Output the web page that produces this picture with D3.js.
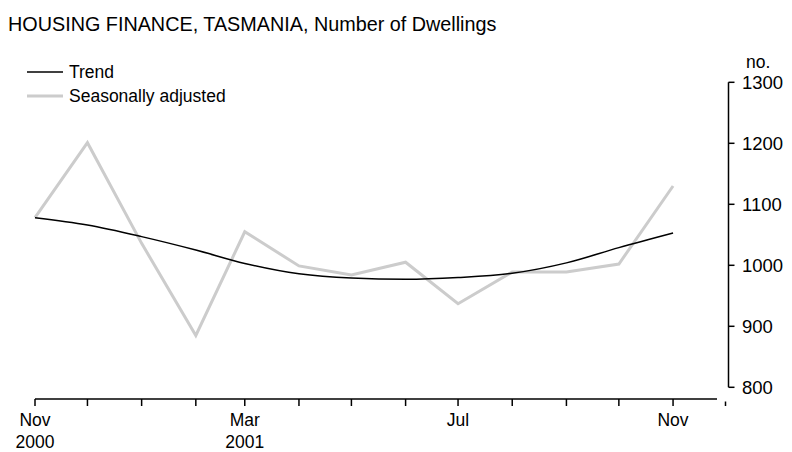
<!DOCTYPE html>
<html>
<head>
<meta charset="utf-8">
<script src="https://cdn.jsdelivr.net/npm/d3@7"></script>
<style>
  body { margin: 0; background: #fff; }
  text { font-family: "Liberation Sans", Arial, sans-serif; fill: #000; }
</style>
</head>
<body>
<div id="chart"></div>
<script>
// Housing finance, Tasmania - number of dwellings, monthly

var months = ["2000-11", "2000-12", "2001-01", "2001-02", "2001-03", "2001-04", "2001-05",
              "2001-06", "2001-07", "2001-08", "2001-09", "2001-10", "2001-11"];
var trend = [1078, 1066, 1047, 1025, 1003, 986, 979, 977, 980, 987, 1004, 1029, 1053];
var seasAdj = [1078, 1201, 1036, 885, 1055, 999, 984, 1005, 937, 989, 989, 1002, 1130];
var yTicks = [800, 900, 1000, 1100, 1200, 1300];

var width = 792, height = 452;
var parse = d3.timeParse("%Y-%m");
var dates = months.map(parse);

var svg = d3.select("#chart").append("svg")
    .attr("width", width)
    .attr("height", height);

var x = d3.scaleTime()
    .domain([parse("2000-11"), parse("2001-12")])
    .range([35, 725.5]);

var y = d3.scaleLinear()
    .domain([800, 1300])
    .range([387.3, 82.3]);

// title
svg.append("text")
    .attr("x", 8).attr("y", 31)
    .style("font-size", "19.8px")
    .text("HOUSING FINANCE, TASMANIA, Number of Dwellings");

// x axis
var axisY = 399;
var xg = svg.append("g");
xg.append("line")
    .attr("x1", 35).attr("x2", 717)
    .attr("y1", axisY).attr("y2", axisY)
    .attr("stroke", "#000").attr("stroke-width", 1.5);

var tickDates = d3.timeMonth.range(parse("2000-11"), d3.timeMonth.offset(parse("2001-12"), 1));
xg.selectAll("line.tick")
    .data(tickDates)
    .enter().append("line")
    .attr("class", "tick")
    .attr("x1", function(d) { return x(d); })
    .attr("x2", function(d) { return x(d); })
    .attr("y1", function(d, i) { return i == tickDates.length - 1 ? axisY + 2.5 : axisY; })
    .attr("y2", axisY + 7)
    .attr("stroke", "#000").attr("stroke-width", 1.5);

var fmtMonth = d3.timeFormat("%b");
var labelled = tickDates.filter(function(d, i) { return i % 4 == 0 && i <= 12; });
xg.selectAll("text.month")
    .data(labelled)
    .enter().append("text")
    .attr("class", "month")
    .attr("x", function(d) { return x(d); })
    .attr("y", 426)
    .attr("text-anchor", "middle")
    .style("font-size", "17.5px")
    .text(function(d) { return fmtMonth(d); });

xg.selectAll("text.year")
    .data([parse("2000-11"), parse("2001-03")])
    .enter().append("text")
    .attr("class", "year")
    .attr("x", function(d) { return x(d); })
    .attr("y", 447.5)
    .attr("text-anchor", "middle")
    .style("font-size", "17.5px")
    .text(function(d) { return d3.timeFormat("%Y")(d); });

// y axis on the right
var axisX = 728.5;
var yg = svg.append("g");
yg.append("line")
    .attr("x1", axisX).attr("x2", axisX)
    .attr("y1", y(1300)).attr("y2", y(800))
    .attr("stroke", "#000").attr("stroke-width", 1.5);

yg.selectAll("line.tick")
    .data(yTicks)
    .enter().append("line")
    .attr("x1", axisX).attr("x2", axisX + 6)
    .attr("y1", function(d) { return y(d); })
    .attr("y2", function(d) { return y(d); })
    .attr("stroke", "#000").attr("stroke-width", 1.5);

yg.selectAll("text.tick")
    .data(yTicks)
    .enter().append("text")
    .attr("x", 742)
    .attr("y", function(d) { return y(d); })
    .attr("dy", "0.36em")
    .style("font-size", "18.5px")
    .text(function(d) { return d; });

yg.append("text")
    .attr("x", 746).attr("y", 68)
    .style("font-size", "17.5px")
    .text("no.");

// series
var line = d3.line()
    .x(function(d, i) { return x(dates[i]); })
    .y(function(d) { return y(d); });

svg.append("path")
    .datum(seasAdj)
    .attr("d", line)
    .attr("fill", "none")
    .attr("stroke", "#cccccc")
    .attr("stroke-width", 3);

svg.append("path")
    .datum(trend)
    .attr("d", line.curve(d3.curveMonotoneX))
    .attr("fill", "none")
    .attr("stroke", "#000")
    .attr("stroke-width", 1.5);

// legend
var legend = [
    { name: "Trend", color: "#000", w: 1.5 },
    { name: "Seasonally adjusted", color: "#cccccc", w: 3 }
];
var lg = svg.selectAll("g.legend")
    .data(legend)
    .enter().append("g")
    .attr("transform", function(d, i) { return "translate(27," + (72 + i * 24) + ")"; });
lg.append("line")
    .attr("x1", 0).attr("x2", 36)
    .attr("stroke", function(d) { return d.color; })
    .attr("stroke-width", function(d) { return d.w; });
lg.append("text")
    .attr("x", 42).attr("dy", "0.36em")
    .style("font-size", "17.5px")
    .text(function(d) { return d.name; });
</script>
</body>
</html>
